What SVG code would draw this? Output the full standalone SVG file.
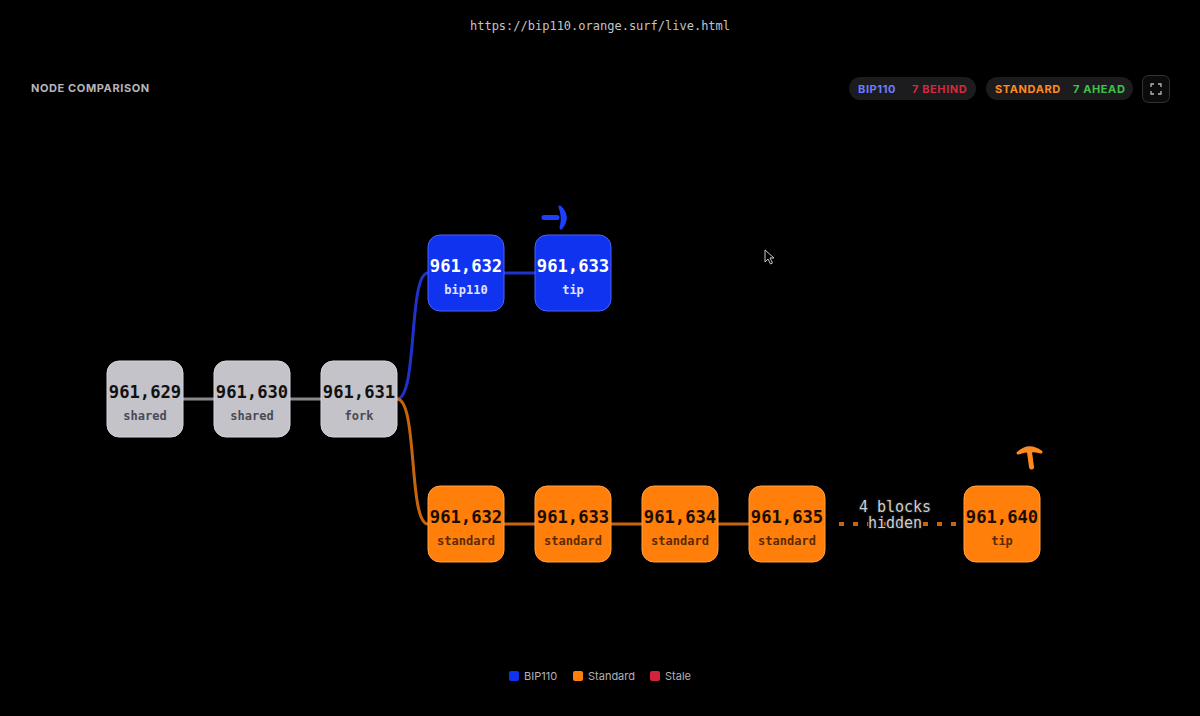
<svg xmlns="http://www.w3.org/2000/svg" width="1200" height="716" viewBox="0 0 1200 716">
<style>
.num{font-family:"DejaVu Sans Mono","Liberation Mono",monospace;font-weight:bold;font-size:17.2px;text-anchor:middle}
.lbl{font-family:"DejaVu Sans Mono","Liberation Mono",monospace;font-weight:bold;font-size:12px;text-anchor:middle}
.gray rect{fill:#c4c3ca;stroke:#d6d5dc;stroke-width:1}
.gray .num{fill:#111}
.gray .lbl{fill:#4a4a55}
.blue rect{fill:#1033f0;stroke:#4a62ff;stroke-width:1}
.blue .num{fill:#fff}
.blue .lbl{fill:#e0e4ff}
.orng rect{fill:#ff7f0a;stroke:#ffa048;stroke-width:1}
.orng .num{fill:#1a0c00}
.orng .lbl{fill:#5a2a00}
.ui{font-family:Inter,"Liberation Sans",sans-serif;font-weight:bold;font-size:11px;letter-spacing:0.6px}
.leg{font-family:Inter,"Liberation Sans",sans-serif;font-size:11px;fill:#b0b0b5}
.hid{font-family:"DejaVu Sans Mono","Liberation Mono",monospace;font-size:15px;fill:#cfcfcf;text-anchor:middle;stroke:#111;stroke-width:3;paint-order:stroke;stroke-linejoin:round}
</style>
<rect width="1200" height="716" fill="#000"/>
<text x="600" y="30" text-anchor="middle" font-family="DejaVu Sans Mono,Liberation Mono,monospace" font-size="12" fill="#c4c4c4">https://bip110.orange.surf/live.html</text>
<text x="31" y="92" class="ui" fill="#b5b5b8">NODE COMPARISON</text>
<g id="pill-bip110">
<rect x="849" y="77" width="127" height="23" rx="11.5" fill="#1c1c1f"/>
<text x="858" y="92.5" class="ui" fill="#6b7cff">BIP110</text>
<text x="912" y="92.5" class="ui" fill="#d12a3e">7 BEHIND</text>
</g>
<g id="pill-standard">
<rect x="986" y="77" width="147" height="23" rx="11.5" fill="#1c1c1f"/>
<text x="995" y="92.5" class="ui" fill="#ff8a1f">STANDARD</text>
<text x="1073" y="92.5" class="ui" fill="#3fc24c">7 AHEAD</text>
</g>
<g id="fullscreen">
<rect x="1142.5" y="75.5" width="27" height="27" rx="6" fill="#0b0b0c" stroke="#333336"/>
<path d="M1151 87v-3h3M1158 84h3v3M1161 91v3h-3M1154 94h-3v-3" fill="none" stroke="#bbb" stroke-width="1.3"/>
</g>
<g id="connectors" fill="none" stroke-width="3">
<path d="M183 399H214M290 399H321" stroke="#8a8a8e"/>
<path d="M397 399C418 399 408 273 428 273" stroke="#1f33cc"/>
<path d="M504 273H535" stroke="#1f33cc"/>
<path d="M397 399C418 399 408 524 428 524" stroke="#c8650c"/>
<path d="M504 524H535M611 524H642M718 524H749" stroke="#c8650c"/>
<path d="M839 524H964" stroke="#c8650c" stroke-width="4" stroke-dasharray="5,9"/>
</g>
<g id="hidden-label">
<text x="895" y="512" class="hid">4 blocks</text>
<text x="895" y="528" class="hid">hidden</text>
</g>
<g id="n961629" class="gray"><rect x="107" y="361" width="76" height="76" rx="12"/><text x="145" y="398" class="num">961,629</text><text x="145" y="420" class="lbl">shared</text></g>
<g id="n961630" class="gray"><rect x="214" y="361" width="76" height="76" rx="12"/><text x="252" y="398" class="num">961,630</text><text x="252" y="420" class="lbl">shared</text></g>
<g id="n961631" class="gray"><rect x="321" y="361" width="76" height="76" rx="12"/><text x="359" y="398" class="num">961,631</text><text x="359" y="420" class="lbl">fork</text></g>
<g id="b961632" class="blue"><rect x="428" y="235" width="76" height="76" rx="12"/><text x="466" y="272" class="num">961,632</text><text x="466" y="294" class="lbl">bip110</text></g>
<g id="b961633" class="blue"><rect x="535" y="235" width="76" height="76" rx="12"/><text x="573" y="272" class="num">961,633</text><text x="573" y="294" class="lbl">tip</text></g>
<g id="s961632" class="orng"><rect x="428" y="486" width="76" height="76" rx="12"/><text x="466" y="523" class="num">961,632</text><text x="466" y="545" class="lbl">standard</text></g>
<g id="s961633" class="orng"><rect x="535" y="486" width="76" height="76" rx="12"/><text x="573" y="523" class="num">961,633</text><text x="573" y="545" class="lbl">standard</text></g>
<g id="s961634" class="orng"><rect x="642" y="486" width="76" height="76" rx="12"/><text x="680" y="523" class="num">961,634</text><text x="680" y="545" class="lbl">standard</text></g>
<g id="s961635" class="orng"><rect x="749" y="486" width="76" height="76" rx="12"/><text x="787" y="523" class="num">961,635</text><text x="787" y="545" class="lbl">standard</text></g>
<g id="s961640" class="orng"><rect x="964" y="486" width="76" height="76" rx="12"/><text x="1002" y="523" class="num">961,640</text><text x="1002" y="545" class="lbl">tip</text></g>
<g id="pick-blue">
<path d="M544 217.5H557" stroke="#1f3fff" stroke-width="5" stroke-linecap="round"/>
<path d="M560 207Q570 217 561 228Q564 217 560 207Z" fill="#1f3fff" stroke="#1f3fff" stroke-width="3" stroke-linejoin="round"/>
</g>
<g id="pick-orange">
<path d="M1029.5 452L1031.5 467" stroke="#ff8a1f" stroke-width="5" stroke-linecap="round"/>
<path d="M1018 453Q1029 443 1041 452Q1029 449 1018 453Z" fill="#ff8a1f" stroke="#ff8a1f" stroke-width="3" stroke-linejoin="round"/>
</g>
<g id="cursor">
<path d="M765 250V262L768 259L770.5 264L772.5 263L770 258H774Z" fill="#000" stroke="#ddd" stroke-width="0.9" stroke-linejoin="round"/>
</g>
<g id="legend">
<rect x="509" y="671" width="10" height="10" rx="2" fill="#1033f0"/>
<text x="524" y="680" class="leg">BIP110</text>
<rect x="573" y="671" width="10" height="10" rx="2" fill="#ff7f0a"/>
<text x="588" y="680" class="leg">Standard</text>
<rect x="650" y="671" width="10" height="10" rx="2" fill="#d1233c"/>
<text x="665" y="680" class="leg">Stale</text>
</g>
</svg>
